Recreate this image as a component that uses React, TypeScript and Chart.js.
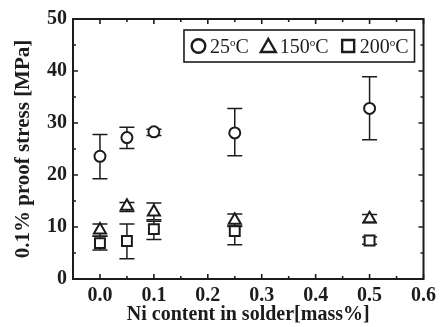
import React, { useEffect, useRef } from 'react';
import { Chart, registerables } from 'chart.js';

Chart.register(...registerables);

// ---- data ----
const niContent = [0, 0.05, 0.1, 0.25, 0.5];

const stress25 = [23.6, 27.2, 28.3, 28.1, 32.8];
const upper25 = [27.8, 29.2, 28.8, 32.8, 38.9];
const lower25 = [19.3, 25.1, 27.6, 23.7, 26.8];

const stress150 = [9.4, 14.0, 12.9, 11.3, 11.6];
const upper150 = [10.6, 14.7, 14.6, 12.5, 12.4];
const lower150 = [8.2, 13.0, 11.4, 10.1, 10.8];

const stress200 = [6.9, 7.3, 9.6, 9.2, 7.4];
const upper200 = [8.2, 10.6, 11.1, 10.2, 8.1];
const lower200 = [5.6, 3.9, 7.6, 6.6, 6.7];

const seriesTemps = ['25', '150', '200'];

const xTicks = [0, 0.1, 0.2, 0.3, 0.4, 0.5, 0.6];
const xMinorTicks = [0.05, 0.15, 0.25, 0.35, 0.45, 0.55];
const yTicks = [0, 10, 20, 30, 40, 50];
const yMinorTicks = [5, 15, 25, 35, 45];

const xTitle = 'Ni content in solder[mass%]';
const yTitle = '0.1% proof stress [MPa]';

const INK = '#1c1c1c';
const SERIF = '"Liberation Serif", "DejaVu Serif", serif';

const errorBarPlugin = {
  id: 'errorBars',
  beforeDatasetsDraw(chart: any) {
    const { ctx } = chart;
    const xs = chart.scales.x;
    const ys = chart.scales.y;
    ctx.save();
    ctx.strokeStyle = INK;
    ctx.lineWidth = 1.5;
    chart.data.datasets.forEach((ds: any) => {
      ds.data.forEach((pt: any, j: number) => {
        const x = xs.getPixelForValue(pt.x);
        const yU = ys.getPixelForValue(ds.errUpper[j]);
        const yL = ys.getPixelForValue(ds.errLower[j]);
        const hw = 7.5;
        ctx.beginPath();
        ctx.moveTo(x, yU);
        ctx.lineTo(x, yL);
        ctx.moveTo(x - hw, yU);
        ctx.lineTo(x + hw, yU);
        ctx.moveTo(x - hw, yL);
        ctx.lineTo(x + hw, yL);
        ctx.stroke();
      });
    });
    ctx.restore();
  },
};

const framePlugin = {
  id: 'frameTicks',
  afterDraw(chart: any) {
    const { ctx, chartArea: a } = chart;
    const xs = chart.scales.x;
    const ys = chart.scales.y;
    ctx.save();
    ctx.strokeStyle = INK;
    ctx.lineWidth = 2;
    ctx.strokeRect(a.left, a.top, a.right - a.left, a.bottom - a.top);
    ctx.lineWidth = 1.6;
    const drawX = (vals: number[], len: number) => {
      vals.forEach((v) => {
        const x = xs.getPixelForValue(v);
        ctx.beginPath();
        ctx.moveTo(x, a.bottom);
        ctx.lineTo(x, a.bottom - len);
        ctx.moveTo(x, a.top);
        ctx.lineTo(x, a.top + len);
        ctx.stroke();
      });
    };
    const drawY = (vals: number[], len: number) => {
      vals.forEach((v) => {
        const y = ys.getPixelForValue(v);
        ctx.beginPath();
        ctx.moveTo(a.left, y);
        ctx.lineTo(a.left + len, y);
        ctx.moveTo(a.right, y);
        ctx.lineTo(a.right - len, y);
        ctx.stroke();
      });
    };
    drawX(xTicks, 5);
    drawX(xMinorTicks, 3);
    drawY(yTicks, 5);
    drawY(yMinorTicks, 3);
    ctx.restore();
  },
};

const legendPlugin = {
  id: 'boxLegend',
  afterDraw(chart: any) {
    const { ctx, chartArea: a } = chart;
    ctx.save();
    const big = `20px ${SERIF}`;
    const small = `11px ${SERIF}`;
    const markerW = 17;
    const gap = 3;
    const itemGap = 11;
    const widths = seriesTemps.map((t) => {
      ctx.font = big;
      const w1 = ctx.measureText(t).width;
      const w3 = ctx.measureText('C').width;
      ctx.font = small;
      const w2 = ctx.measureText('o').width;
      return { w1, w2, w3, total: markerW + gap + w1 + w2 + w3 };
    });
    const padX = 6;
    const total = widths.reduce((s, w) => s + w.total, 0) + itemGap * (widths.length - 1) + padX * 2;
    const boxH = 32;
    const right = a.right - 9;
    const left = right - total;
    const top = a.top + 11;
    ctx.strokeStyle = INK;
    ctx.lineWidth = 1.6;
    ctx.fillStyle = '#ffffff';
    ctx.fillRect(left, top, total, boxH);
    ctx.strokeRect(left, top, total, boxH);
    const cy = top + boxH / 2;
    let x = left + padX;
    const styles = ['circle', 'triangle', 'rect'];
    seriesTemps.forEach((t, i) => {
      const w = widths[i];
      const cx = x + markerW / 2;
      ctx.lineWidth = 2.4;
      ctx.strokeStyle = INK;
      ctx.beginPath();
      if (styles[i] === 'circle') {
        ctx.arc(cx, cy, 6.8, 0, Math.PI * 2);
      } else if (styles[i] === 'triangle') {
        ctx.moveTo(cx, cy - 7);
        ctx.lineTo(cx + 7.5, cy + 6);
        ctx.lineTo(cx - 7.5, cy + 6);
        ctx.closePath();
      } else {
        ctx.rect(cx - 6, cy - 6, 12, 12);
      }
      ctx.stroke();
      let tx = x + markerW + gap;
      ctx.fillStyle = INK;
      ctx.textBaseline = 'alphabetic';
      ctx.textAlign = 'left';
      const base = cy + 6.5;
      ctx.font = big;
      ctx.fillText(t, tx, base);
      tx += w.w1;
      ctx.font = small;
      ctx.fillText('o', tx, base - 7);
      tx += w.w2;
      ctx.font = big;
      ctx.fillText('C', tx, base);
      x += w.total + itemGap;
    });
    ctx.restore();
  },
};

function makeDataset(values: number[], up: number[], low: number[], style: string, radius: number, label: string) {
  return {
    label,
    data: niContent.map((x, i) => ({ x, y: values[i] })),
    errUpper: up,
    errLower: low,
    pointStyle: style,
    pointRadius: radius,
    pointHoverRadius: radius,
    pointBorderWidth: 2,
    pointBorderColor: INK,
    pointBackgroundColor: '#ffffff',
    borderColor: INK,
    backgroundColor: '#ffffff',
    showLine: false,
  };
}

export default function App() {
  const ref = useRef<HTMLCanvasElement | null>(null);

  useEffect(() => {
    document.body.style.margin = '0';
    if (!ref.current) return;
    const chart = new Chart(ref.current, {
      type: 'scatter',
      data: {
        datasets: [
          makeDataset(stress25, upper25, lower25, 'circle', 5.5, '25°C'),
          makeDataset(stress150, upper150, lower150, 'triangle', 7, '150°C'),
          makeDataset(stress200, upper200, lower200, 'rect', 7, '200°C'),
        ] as any,
      },
      options: {
        animation: false,
        responsive: false,
        layout: { padding: { left: 0, right: 13, top: 19, bottom: 0 } },
        plugins: {
          legend: { display: false },
          tooltip: { enabled: false },
        },
        scales: {
          x: {
            type: 'linear',
            min: -0.05,
            max: 0.6,
            grid: { display: false, drawTicks: false },
            border: { display: false },
            afterBuildTicks: (s: any) => {
              s.ticks = xTicks.map((v) => ({ value: v }));
            },
            afterFit: (s: any) => {
              s.height = 48;
            },
            ticks: {
              padding: 5,
              color: INK,
              maxRotation: 0,
              autoSkip: false,
              font: { family: SERIF, size: 20, weight: 'bold' },
              callback: (v: any) => Number(v).toFixed(1),
            },
            title: {
              display: true,
              text: xTitle,
              color: INK,
              padding: { top: 0, bottom: 0 },
              font: { family: SERIF, size: 20, weight: 'bold' },
            },
          },
          y: {
            type: 'linear',
            min: 0,
            max: 50,
            grid: { display: false, drawTicks: false },
            border: { display: false },
            afterBuildTicks: (s: any) => {
              s.ticks = yTicks.map((v) => ({ value: v }));
            },
            afterFit: (s: any) => {
              s.width = 73;
            },
            ticks: {
              padding: 6,
              color: INK,
              autoSkip: false,
              font: { family: SERIF, size: 20, weight: 'bold' },
              callback: (v: any) => String(v),
            },
            title: {
              display: true,
              text: yTitle,
              color: INK,
              padding: { top: 11, bottom: 0 },
              font: { family: SERIF, size: 21, weight: 'bold' },
            },
          },
        },
      } as any,
      plugins: [errorBarPlugin, framePlugin, legendPlugin],
    });
    return () => chart.destroy();
  }, []);

  return (
    <div style={{ width: 441, height: 327, background: '#fff' }}>
      <canvas ref={ref} width={441} height={327} style={{ display: 'block' }} />
    </div>
  );
}
